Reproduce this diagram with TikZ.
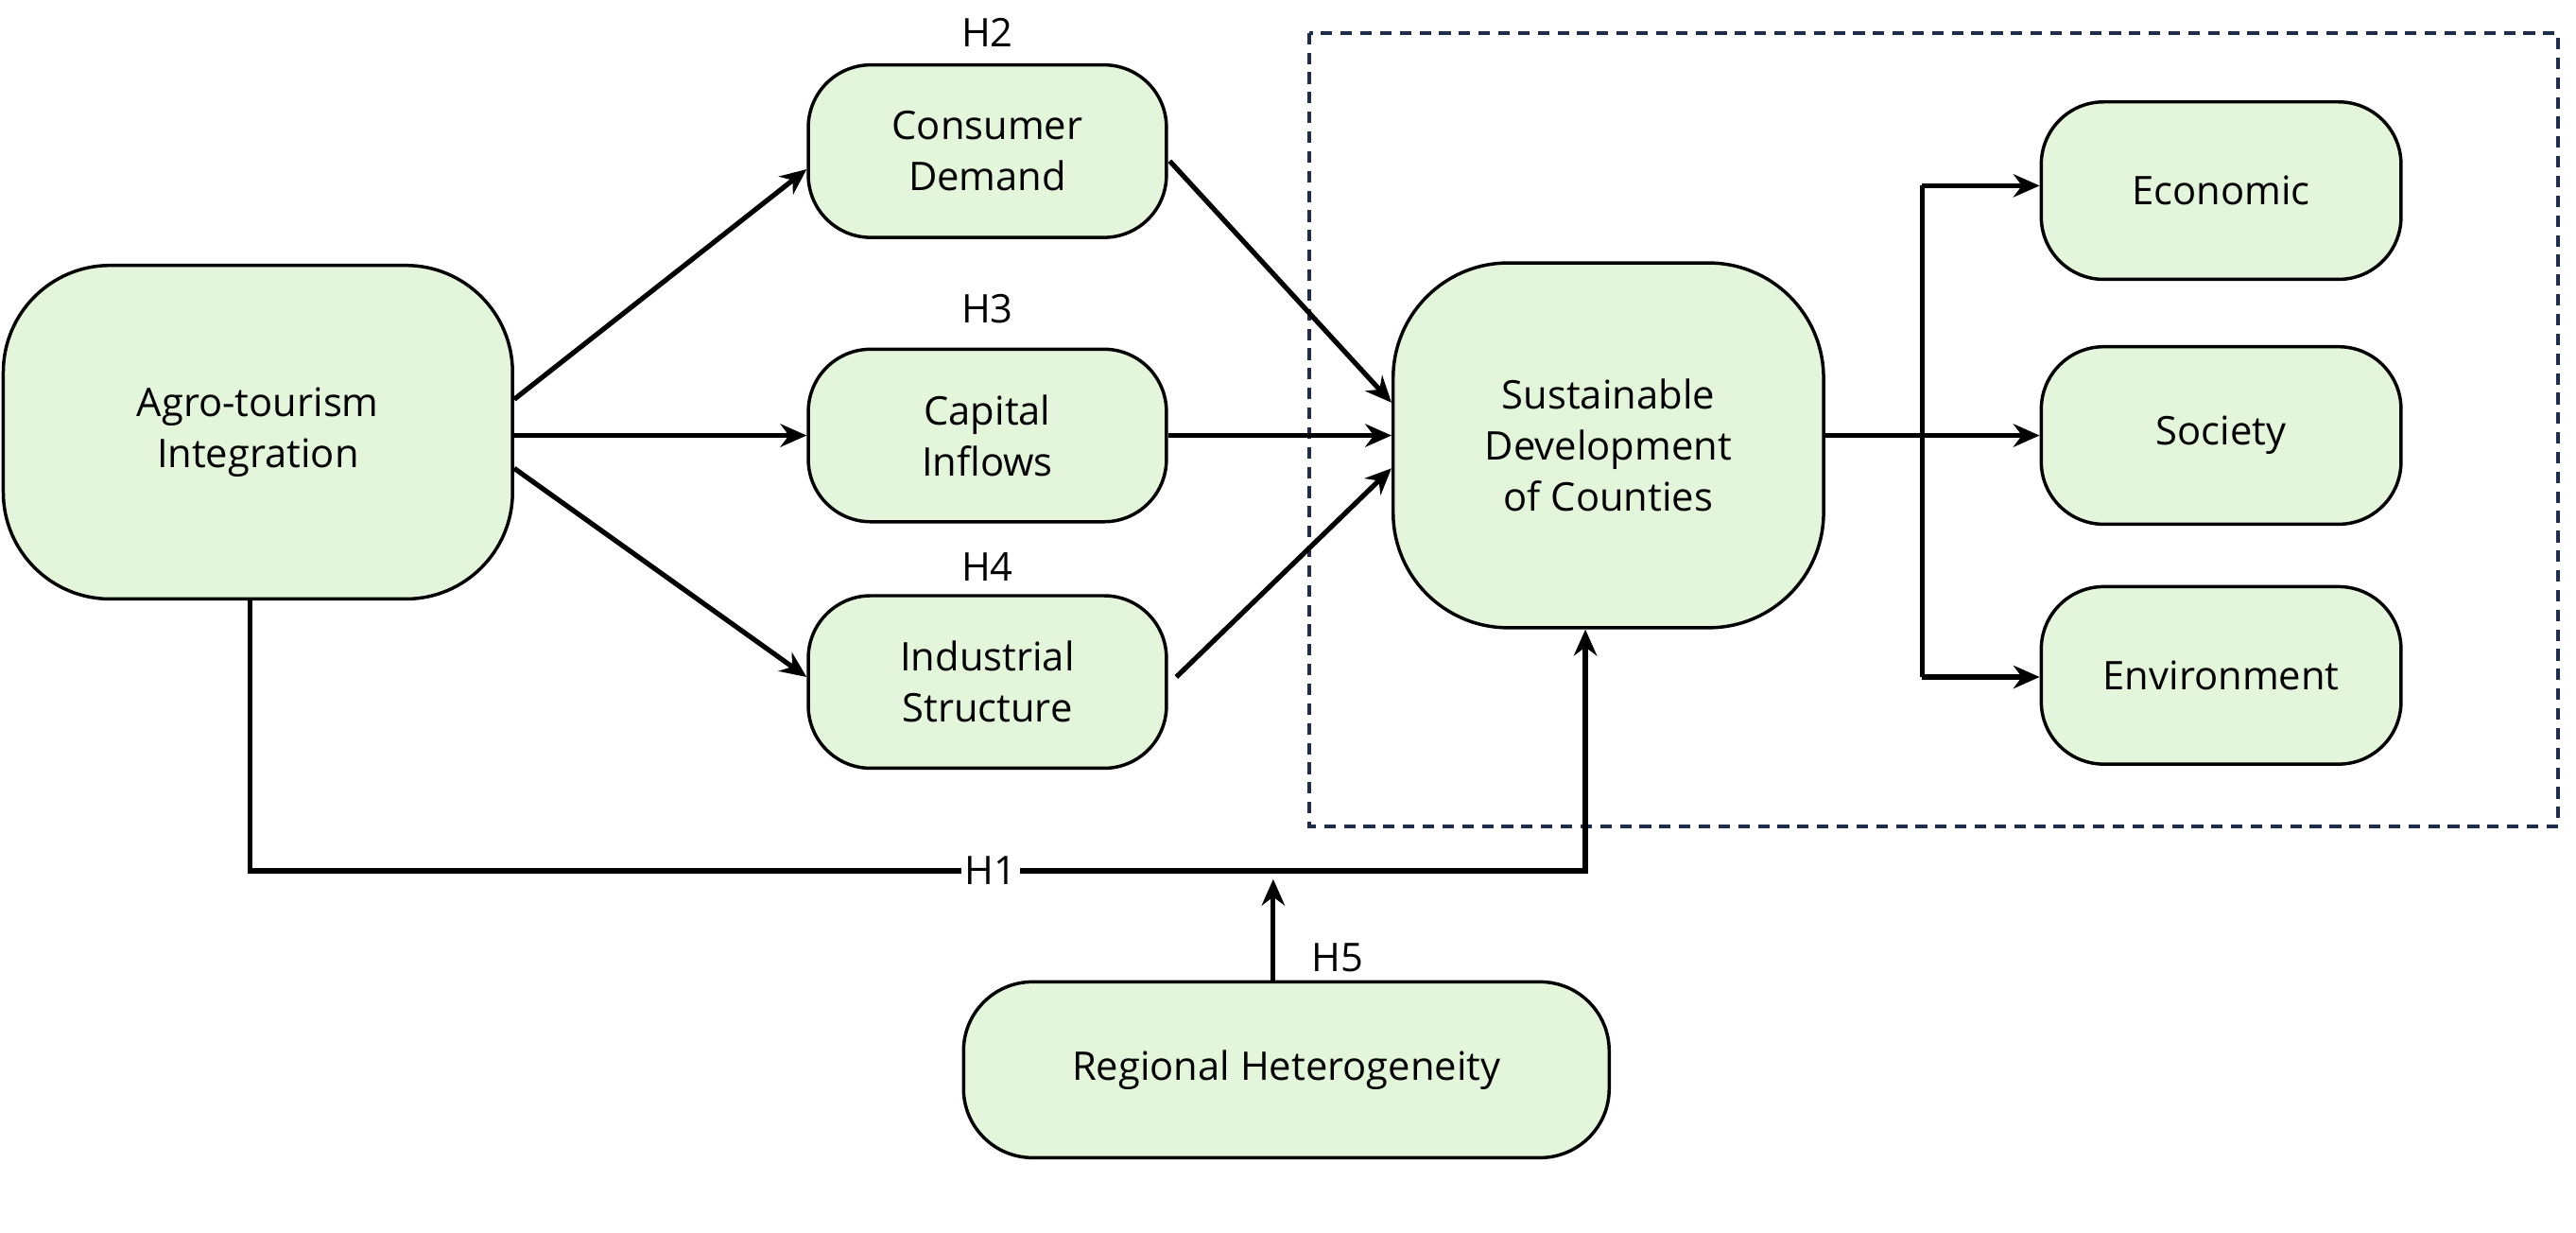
\documentclass[tikz,border=0pt]{standalone}
\usepackage{fontspec}
\setmainfont{Open Sans}
\usetikzlibrary{arrows.meta}
\definecolor{boxg}{HTML}{E3F5DA}
\definecolor{dashcol}{HTML}{1F2D4A}
\begin{document}
\begin{tikzpicture}[x=1pt,y=-1pt,
  box/.style={draw=black,line width=2pt,fill=boxg,rounded corners=38pt,align=center,font=\fontsize{24}{31}\selectfont},
  arr/.style={line width=3pt,-{Stealth[length=16pt,width=14pt]}},
  lab/.style={font=\fontsize{24}{28}\selectfont}]
\useasboundingbox (0,0) rectangle (1568,750);
\draw[draw=dashcol,line width=2.4pt,dash pattern=on 7pt off 5pt] (797,20) rectangle (1557,503);
\node[box,minimum width=310pt,minimum height=203pt,rounded corners=65pt] (agro) at (157,263) {Agro-tourism\\Integration};
\node[box,minimum width=218pt,minimum height=105pt] (cd) at (601,92) {Consumer\\Demand};
\node[box,minimum width=218pt,minimum height=105pt] (ci) at (601,265) {Capital\\Inflows};
\node[box,minimum width=218pt,minimum height=105pt] (is) at (601,415) {Industrial\\Structure};
\node[box,minimum width=262pt,minimum height=222pt,rounded corners=70pt] (sd) at (979,271) {Sustainable\\Development\\of Counties};
\node[box,minimum width=219pt,minimum height=108pt] (ec) at (1352,116) {Economic};
\node[box,minimum width=219pt,minimum height=108pt] (so) at (1352,265) {Society};
\node[box,minimum width=219pt,minimum height=108pt] (en) at (1352,411) {Environment};
\node[box,minimum width=393pt,minimum height=107pt,rounded corners=42pt] (rh) at (783,651) {Regional Heterogeneity};
\node[lab] (h2) at (601,20) {H2};
\node[lab] (h3) at (601,188) {H3};
\node[lab] (h4) at (601,345) {H4};
\node[lab] (h5) at (814,583) {H5};
\draw[arr] (agro.east |- 0,243) -- (cd.west |- 0,103);
\draw[arr] (agro.east |- 0,265) -- (ci.west |- 0,265);
\draw[arr] (agro.east |- 0,285) -- (is.west |- 0,412);
\draw[arr] (712,98) -- (sd.west |- 0,245);
\draw[arr] (ci.east) -- (sd.west |- 0,265);
\draw[arr] (716,412) -- (sd.west |- 0,285);
\coordinate (br) at (1170,265);
\draw[arr] (sd.east |- br) -- (so.west);
\draw[arr] (1170,113) -- (ec.west |- 0,113);
\draw[line width=3pt] (1170,113) -- (1170,412);
\draw[arr] (1170,412) -- (en.west |- 0,412);
\coordinate (c1) at (152,530);
\coordinate (c2) at (965,530);
\draw[arr] (agro.south -| c1) -- (c1) -- (c2) -- (sd.south -| c2);
\node[lab,fill=white,inner sep=2pt] (h1) at (603,530) {H1};
\draw[arr] (rh.north -| 775,0) -- (775,535);
\end{tikzpicture}
\end{document}
